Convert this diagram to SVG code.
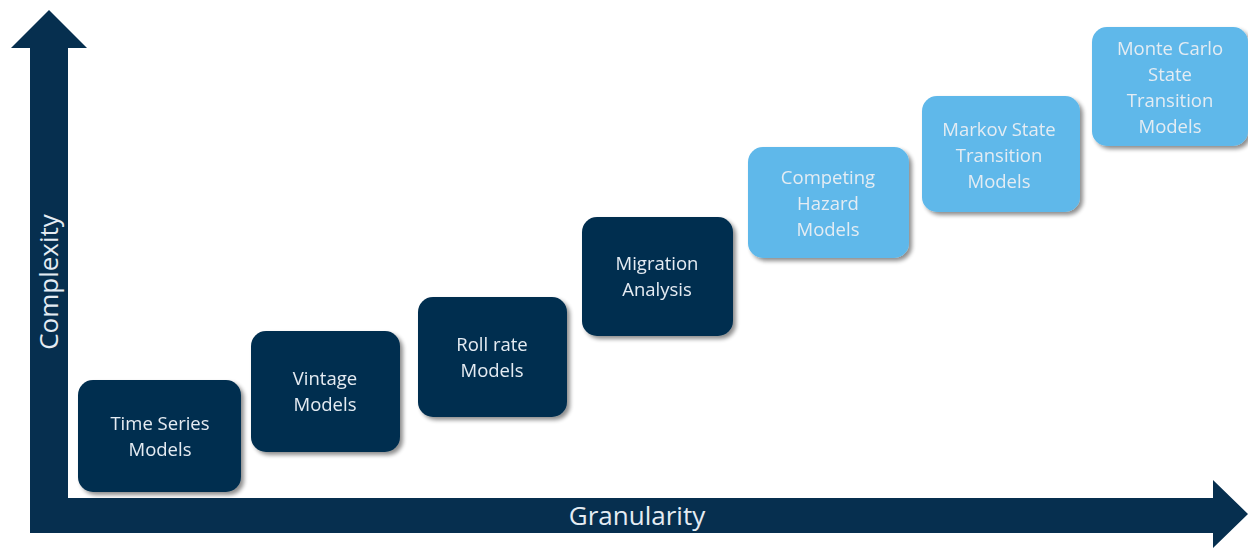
<svg xmlns="http://www.w3.org/2000/svg" width="1248" height="548" viewBox="0 0 1248 548">
<defs>
<filter id="sh" x="-10%" y="-10%" width="130%" height="130%">
<feGaussianBlur in="SourceAlpha" stdDeviation="2"/>
<feOffset dx="3" dy="3"/>
<feComponentTransfer><feFuncA type="linear" slope="0.45"/></feComponentTransfer>
<feMerge><feMergeNode/><feMergeNode in="SourceGraphic"/></feMerge>
</filter>
</defs>
<style>
.dark{fill:#062f4f;}
.light{fill:#5eb8ea;}
.box{filter:url(#sh);}
.t{font-family:"Open Sans","Liberation Sans",sans-serif;font-size:18.5px;fill:#e4ecf3;text-anchor:middle;}
.ax{font-family:"Open Sans","Liberation Sans",sans-serif;font-size:26px;fill:#e4ecf3;text-anchor:middle;}
</style>
<rect width="1248" height="548" fill="#ffffff"/>
<g id="axes">
<polygon class="dark" points="30,533 30,48 11,48 49,10 87,48 68,48 68,498 1213,498 1213,480 1248,514 1213,548 1213,533"/>
<text class="ax" transform="translate(58,282) rotate(-90)">Complexity</text>
<text class="ax" x="637" y="525">Granularity</text>
</g>
<g id="n1" class="box"><rect class="dark" x="78" y="380" width="163" height="112" rx="15"/><text class="t" x="160" y="430">Time Series</text><text class="t" x="160" y="456">Models</text></g>
<g id="n2" class="box"><rect class="dark" x="251" y="331" width="149" height="121" rx="15"/><text class="t" x="325" y="385">Vintage</text><text class="t" x="325" y="411">Models</text></g>
<g id="n3" class="box"><rect class="dark" x="418" y="297" width="149" height="120" rx="15"/><text class="t" x="492" y="351">Roll rate</text><text class="t" x="492" y="377">Models</text></g>
<g id="n4" class="box"><rect class="dark" x="582" y="217" width="151" height="119" rx="15"/><text class="t" x="657" y="270">Migration</text><text class="t" x="657" y="296">Analysis</text></g>
<g id="n5" class="box"><rect class="light" x="748" y="147" width="161" height="111" rx="15"/><text class="t" x="828" y="184">Competing</text><text class="t" x="828" y="210">Hazard</text><text class="t" x="828" y="236">Models</text></g>
<g id="n6" class="box"><rect class="light" x="922" y="96" width="158" height="116" rx="15"/><text class="t" x="999" y="136">Markov State</text><text class="t" x="999" y="162">Transition</text><text class="t" x="999" y="188">Models</text></g>
<g id="n7" class="box"><rect class="light" x="1092" y="27" width="156" height="119" rx="15"/><text class="t" x="1170" y="55">Monte Carlo</text><text class="t" x="1170" y="81">State</text><text class="t" x="1170" y="107">Transition</text><text class="t" x="1170" y="133">Models</text></g>
</svg>
